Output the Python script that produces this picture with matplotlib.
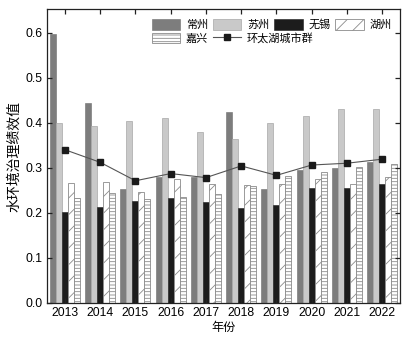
import numpy as np
import matplotlib.pyplot as plt

plt.rcParams['font.family'] = ['Liberation Sans', 'Noto Sans CJK SC']
plt.rcParams['hatch.linewidth'] = 0.6

years = ['2013', '2014', '2015', '2016', '2017', '2018', '2019', '2020', '2021', '2022']
changzhou = [0.598, 0.444, 0.252, 0.280, 0.279, 0.423, 0.252, 0.296, 0.300, 0.313]
suzhou = [0.399, 0.393, 0.404, 0.410, 0.380, 0.364, 0.400, 0.415, 0.430, 0.430]
wuxi = [0.202, 0.213, 0.225, 0.232, 0.223, 0.211, 0.216, 0.256, 0.256, 0.264]
huzhou = [0.265, 0.269, 0.245, 0.274, 0.263, 0.262, 0.263, 0.276, 0.263, 0.280]
jiaxing = [0.233, 0.243, 0.230, 0.235, 0.242, 0.259, 0.282, 0.290, 0.301, 0.308]
taihu = [0.340, 0.312, 0.271, 0.287, 0.278, 0.304, 0.283, 0.306, 0.310, 0.319]

x = np.arange(len(years))
w = 0.17

fig = plt.figure(figsize=(4.08, 3.37), dpi=100)
ax = fig.add_axes([0.116, 0.102, 0.864, 0.870])

b1 = ax.bar(x - 2*w, changzhou, w, color='#7d7d7d', edgecolor='#6e6e6e', linewidth=0.4, label='常州')
b2 = ax.bar(x - w, suzhou, w, color='#c9c9c9', edgecolor='#a8a8a8', linewidth=0.5, label='苏州')
b3 = ax.bar(x, wuxi, w, color='#1c1c1c', edgecolor='#1c1c1c', linewidth=0.4, label='无锡')
b4 = ax.bar(x + w, huzhou, w, color='white', edgecolor='#8a8a8a', hatch='//', linewidth=0.6, label='湖州')
b5 = ax.bar(x + 2*w, jiaxing, w, color='white', edgecolor='#8a8a8a', hatch='-----', linewidth=0.6, label='嘉兴')
ln, = ax.plot(x, taihu, '-', color='#555555', lw=0.8, marker='s', ms=5,
              mfc='#1a1a1a', mec='#1a1a1a', label='环太湖城市群')

ax.set_xlim(-0.5, 9.5)
ax.set_ylim(0, 0.652)
ax.set_xticks(x)
ax.set_xticklabels(years)
ax.set_yticks([0.0, 0.1, 0.2, 0.3, 0.4, 0.5, 0.6])
ax.set_yticklabels(['0.0', '0.1', '0.2', '0.3', '0.4', '0.5', '0.6'])
ax.tick_params(direction='in', length=3.5, width=0.9, labelsize=8.7,
               top=True, right=True, color='#222222')
for s in ax.spines.values():
    s.set_linewidth(0.9)
    s.set_color('#222222')

ax.set_xlabel('年份', fontsize=8.7, labelpad=2)
ax.set_ylabel('水环境治理绩效值', fontsize=10, labelpad=3)

leg1 = ax.legend(handles=[b1, b2, b3, b4], ncol=4, frameon=False, fontsize=8,
                 loc='center left', bbox_to_anchor=(0.359, 0.927), bbox_transform=fig.transFigure,
                 borderpad=0, handlelength=2.55, handleheight=1.1, handletextpad=0.5,
                 columnspacing=0.45)
ax.add_artist(leg1)
ax.legend(handles=[b5, ln], ncol=2, frameon=False, fontsize=8,
          loc='center left', bbox_to_anchor=(0.359, 0.887), bbox_transform=fig.transFigure,
          borderpad=0, handlelength=2.55, handleheight=1.1, handletextpad=0.5,
          columnspacing=0.45)

fig.savefig('out.png', dpi=100)
